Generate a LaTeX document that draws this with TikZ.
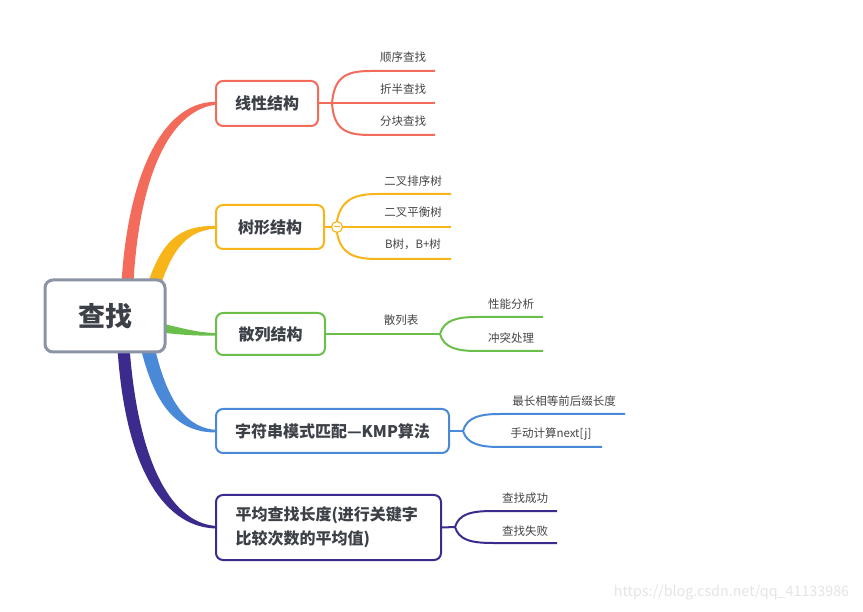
\documentclass[tikz,border=0pt]{standalone}
\usepackage{fontspec}
\setmainfont{Noto Sans CJK SC}
\definecolor{cred}{HTML}{F26B5B}
\definecolor{corange}{HTML}{F7B51A}
\definecolor{cgreen}{HTML}{6ABF4B}
\definecolor{cblue}{HTML}{4A89D8}
\definecolor{cpurple}{HTML}{3C2A8C}
\definecolor{cgray}{HTML}{8A94A6}
\definecolor{txt}{HTML}{3C4047}
\definecolor{lbltxt}{HTML}{444444}
\definecolor{wm}{HTML}{E4E4E4}
\tikzset{
  box/.style={draw, rounded corners=7, line width=2, fill=white, text=txt,
    font=\bfseries\fontsize{16}{20}\selectfont, inner sep=0, align=center},
  lbl/.style={text=lbltxt, font=\fontsize{11.5}{14}\selectfont, inner sep=0},
  sub/.style={line width=2},
}
\begin{document}
\begin{tikzpicture}[x=1pt,y=-1pt]
\useasboundingbox (0,0) rectangle (863,612);
% tapered main branches
\fill[cred] (121,292) .. controls (127,165) and (168,99) .. (218,102) -- (218,104.5) .. controls (172,108) and (138,172) .. (133,292) -- cycle;
\fill[corange] (145,293) .. controls (161,236) and (183,225) .. (218,226) -- (218,228.5) .. controls (188,230) and (172,246) .. (157,297) -- cycle;
\fill[cgreen] (150,321) .. controls (180,327) and (195,333) .. (218,333) -- (218,335.5) .. controls (195,336) and (180,335) .. (150,331) -- cycle;
\fill[cblue] (139,340) .. controls (155,415) and (183,433) .. (218,432.5) -- (218,430) .. controls (188,429) and (167,405) .. (153,340) -- cycle;
\fill[cpurple] (117,340) .. controls (124,475) and (168,529) .. (218,528.5) -- (218,526) .. controls (173,525) and (137,465) .. (129,340) -- cycle;

% root
\node[box, draw=cgray, line width=3, rounded corners=8, minimum width=120, minimum height=72,
  font=\bfseries\fontsize{27}{32}\selectfont] (root) at (105,316) {查找};

% branch boxes
\node[box, draw=cred, minimum width=102, minimum height=45] (b1) at (267,103.5) {线性结构};
\node[box, draw=corange, minimum width=108, minimum height=44] (b2) at (270,227) {树形结构};
\node[box, draw=cgreen, minimum width=109, minimum height=42] (b3) at (270.5,334) {散列结构};
\node[box, draw=cblue, minimum width=233, minimum height=44] (b4) at (332.5,431) {字符串模式匹配—KMP算法};
\node[box, draw=cpurple, minimum width=225, minimum height=65, align=left, text width=186,
  font=\bfseries\fontsize{16}{24}\selectfont] (b5) at (328.5,527.5) {平均查找长度(进行关键字\\比较次数的平均值)};

% ---- branch 1 (red)
\coordinate (f1) at (332,103.5);
\node[lbl] (l11) at (403,57) {顺序查找};
\node[lbl] (l12) at (403,89) {折半查找};
\node[lbl] (l13) at (403,121) {分块查找};
\coordinate (s11) at (370,71); \coordinate (e11) at (435,71);
\coordinate (s13) at (370,135); \coordinate (e13) at (435,135);
\coordinate (e12) at (435,103.5);
\draw[sub, cred] (b1.east) -- (e12);
\draw[sub, cred] (f1) .. controls (334,78) and (345,71) .. (s11) -- (e11);
\draw[sub, cred] (f1) .. controls (334,129) and (345,135) .. (s13) -- (e13);

% ---- branch 2 (orange)
\node[lbl] (l21) at (413,181) {二叉排序树};
\node[lbl] (l22) at (413,212) {二叉平衡树};
\node[lbl] (l23) at (413,244) {B树，B+树};
\coordinate (s21) at (377,194); \coordinate (e21) at (451,194);
\coordinate (s23) at (377,259); \coordinate (e23) at (451,259);
\coordinate (e22) at (451,227);
\node[circle, draw=corange, line width=1.2, fill=white, minimum size=11, inner sep=0] (f2) at (337,227) {};
\draw[sub, corange] (b2.east) -- (f2.west);
\draw[sub, corange] (f2.east) -- (e22);
\draw[sub, corange] (f2.north) .. controls (341,200) and (354,194) .. (s21) -- (e21);
\draw[sub, corange] (f2.south) .. controls (341,254) and (354,259) .. (s23) -- (e23);
\draw[line width=1, corange] ([xshift=-3]f2.center) -- ([xshift=3]f2.center);

% ---- branch 3 (green)
\node[lbl] (l3) at (401,320) {散列表};
\coordinate (f3) at (440,334);
\node[lbl] (l31) at (511,304) {性能分析};
\node[lbl] (l32) at (511,338) {冲突处理};
\coordinate (s31) at (477,317); \coordinate (e31) at (543,317);
\coordinate (s32) at (477,351); \coordinate (e32) at (543,351);
\draw[sub, cgreen] (b3.east) -- (f3);
\draw[sub, cgreen] (f3) .. controls (444,320) and (457,317) .. (s31) -- (e31);
\draw[sub, cgreen] (f3) .. controls (444,348) and (457,351) .. (s32) -- (e32);

% ---- branch 4 (blue)
\coordinate (f4) at (463,431);
\node[lbl] (l41) at (564,401) {最长相等前后缀长度};
\node[lbl] (l42) at (551,434) {手动计算next[j]};
\coordinate (s41) at (500,414); \coordinate (e41) at (625,414);
\coordinate (s42) at (500,447); \coordinate (e42) at (602,447);
\draw[sub, cblue] (b4.east) -- (f4);
\draw[sub, cblue] (f4) .. controls (467,417) and (480,414) .. (s41) -- (e41);
\draw[sub, cblue] (f4) .. controls (467,444) and (480,447) .. (s42) -- (e42);

% ---- branch 5 (purple)
\coordinate (f5) at (455,527);
\node[lbl] (l51) at (525,498) {查找成功};
\node[lbl] (l52) at (525,531) {查找失败};
\coordinate (s51) at (493,511); \coordinate (e51) at (557,511);
\coordinate (s52) at (493,543); \coordinate (e52) at (557,543);
\draw[sub, cpurple] (b5.east) -- (f5);
\draw[sub, cpurple] (f5) .. controls (459,514) and (471,511) .. (s51) -- (e51);
\draw[sub, cpurple] (f5) .. controls (459,540) and (471,543) .. (s52) -- (e52);

% watermark
\node[text=wm, font=\fontsize{14.3}{17}\selectfont, inner sep=0] (wmk) at (731.5,593) {https://blog.csdn.net/qq\_41133986};
\end{tikzpicture}
\end{document}
